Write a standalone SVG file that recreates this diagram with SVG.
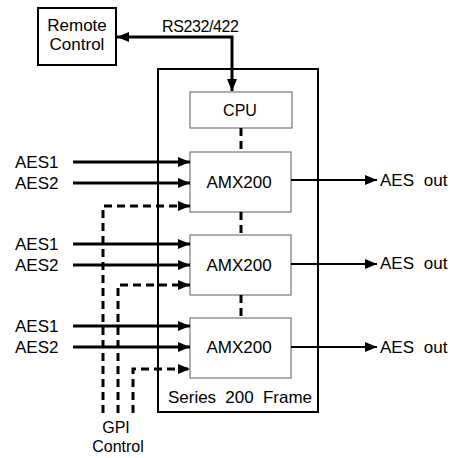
<svg xmlns="http://www.w3.org/2000/svg" width="450" height="458" viewBox="0 0 450 458">
<style>
text{font-family:"Liberation Sans",Arial,sans-serif;font-size:17px;fill:#000}
.sm{font-size:16px}
.ws{word-spacing:5px}
.box{fill:#fff;stroke:#777;stroke-width:1.2}
.thick{fill:none;stroke:#000;stroke-width:3}
.thin{fill:none;stroke:#000;stroke-width:2}
.dash{fill:none;stroke:#000;stroke-width:3;stroke-dasharray:8 5}
</style>
<defs>
<marker id="ah" viewBox="0 0 12 10" refX="12" refY="5" markerUnits="userSpaceOnUse" markerWidth="12" markerHeight="10" orient="auto-start-reverse">
<path d="M0,0 L12,5 L0,10 z" fill="#000"/>
</marker>
</defs>
<rect x="0" y="0" width="450" height="458" fill="#fff"/>
<g id="frame">
<rect x="158" y="69" width="160" height="343" fill="none" stroke="#000" stroke-width="2"/>
<text x="240" y="403" text-anchor="middle" style="word-spacing:4.5px">Series 200 Frame</text>
</g>
<g id="remote">
<rect x="38" y="8" width="78" height="57" fill="#fff" stroke="#000" stroke-width="2"/>
<text x="77" y="31" text-anchor="middle">Remote</text>
<text x="77" y="50" text-anchor="middle">Control</text>
</g>
<g id="cpu">
<rect class="box" x="190" y="92" width="102" height="36"/>
<text class="sm" x="240" y="116" text-anchor="middle">CPU</text>
</g>
<g id="amx1">
<rect class="box" x="190" y="152" width="101" height="60"/>
<text x="239" y="188" text-anchor="middle">AMX200</text>
</g>
<g id="amx2">
<rect class="box" x="190" y="235" width="101" height="60"/>
<text x="239" y="271" text-anchor="middle">AMX200</text>
</g>
<g id="amx3">
<rect class="box" x="190" y="318" width="101" height="60"/>
<text x="239" y="353" text-anchor="middle">AMX200</text>
</g>
<g id="labels">
<text x="15" y="168">AES1</text>
<text x="15" y="189">AES2</text>
<text x="15" y="250">AES1</text>
<text x="15" y="271">AES2</text>
<text x="15" y="332">AES1</text>
<text x="15" y="353">AES2</text>
<text class="ws" x="380" y="186">AES out</text>
<text class="ws" x="380" y="269">AES out</text>
<text class="ws" x="380" y="353">AES out</text>
<text class="sm" x="116" y="433" text-anchor="middle">GPI</text>
<text class="sm" x="118" y="452" text-anchor="middle">Control</text>
<text class="sm" x="162" y="32" textLength="77">RS232/422</text>
</g>
<g id="connectors">
<path class="thick" d="M232,91 V37 H117" marker-start="url(#ah)" marker-end="url(#ah)"/>
<path class="dash" d="M241,128 V152"/>
<path class="dash" d="M241,212 V235"/>
<path class="dash" d="M241,295 V318"/>
<path class="thick" d="M73,162 H190" marker-end="url(#ah)"/>
<path class="thick" d="M73,183 H190" marker-end="url(#ah)"/>
<path class="thick" d="M73,244 H190" marker-end="url(#ah)"/>
<path class="thick" d="M73,265 H190" marker-end="url(#ah)"/>
<path class="thick" d="M73,326 H190" marker-end="url(#ah)"/>
<path class="thick" d="M73,347 H190" marker-end="url(#ah)"/>
<path class="dash" d="M103,413 V206 H190" marker-end="url(#ah)"/>
<path class="dash" d="M118,413 V285 H190" marker-end="url(#ah)"/>
<path class="dash" d="M133,413 V369 H190" marker-end="url(#ah)"/>
<path class="thin" d="M291,180 H377" marker-end="url(#ah)"/>
<path class="thin" d="M291,264 H377" marker-end="url(#ah)"/>
<path class="thin" d="M291,347 H377" marker-end="url(#ah)"/>
</g>
</svg>
